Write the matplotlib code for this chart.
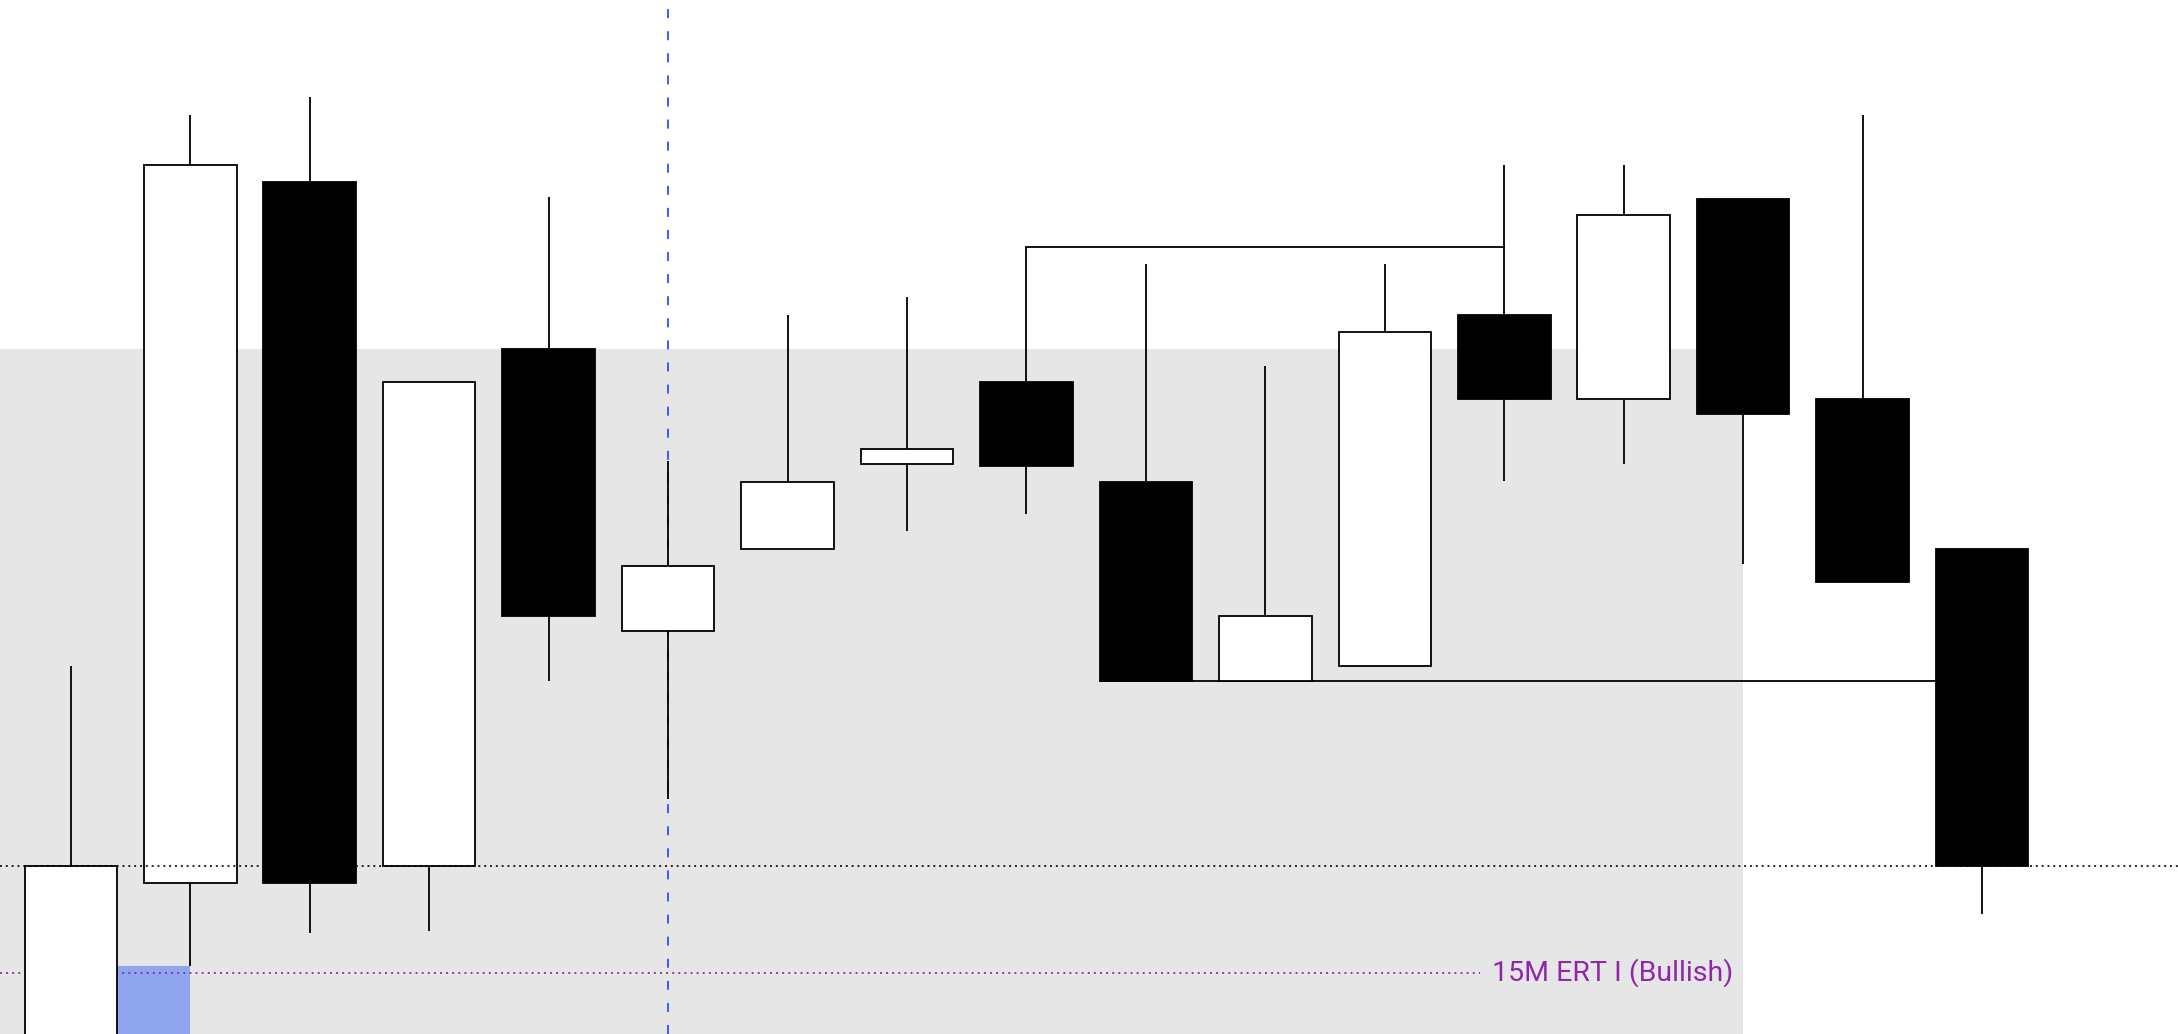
import matplotlib
matplotlib.use("Agg")
import matplotlib.pyplot as plt
from matplotlib.patches import Rectangle

plt.rcParams['lines.scale_dashes'] = False

# OHLC data (price units)
opens  = [4472.0, 4554.5, 4806.5, 4560.5, 4746.5, 4645.0, 4674.5, 4705.0, 4734.5,
          4698.5, 4627.0, 4632.5, 4758.5, 4728.5, 4800.5, 4728.5, 4674.5]
highs  = [4632.5, 4830.5, 4837.0, 4734.5, 4801.0, 4706.0, 4758.5, 4765.0, 4783.0,
          4777.0, 4740.5, 4777.0, 4812.5, 4812.5, 4800.5, 4830.5, 4674.5]
lows   = [4462.0, 4524.5, 4536.5, 4537.0, 4627.0, 4584.5, 4674.5, 4681.0, 4687.0,
          4627.0, 4627.0, 4632.5, 4699.0, 4705.0, 4669.0, 4662.5, 4543.0]
closes = [4560.5, 4812.5, 4554.5, 4734.5, 4650.5, 4668.5, 4698.5, 4710.5, 4704.5,
          4627.0, 4650.5, 4752.5, 4728.5, 4794.5, 4723.0, 4662.5, 4560.5]

# annotation levels
zone_top = 4746.5          # grey zone upper bound
zone_end_bar = 14          # grey zone ends at this bar
dotted_level = 4560.5      # black dotted horizontal
ert_level = 4522.0         # purple ERT line
ert_label = "15M ERT I (Bullish)"
fvg_top = 4524.5           # blue box top
fvg_bars = (0, 1)
vline_bar = 5
top_line = (8, 12, 4783.0)
bottom_line = (9, 16, 4627.0)

BW = 0.775
fig = plt.figure(figsize=(21.78, 10.34), dpi=100)
ax = fig.add_axes([0, 0, 1, 1])
ax.set_xlim(-0.593, 17.64)
ax.set_ylim(4500, 4872)
ax.axis('off')

ymin, ymax = ax.get_ylim()
xmin, xmax = ax.get_xlim()

# grey zone
ax.add_patch(Rectangle((xmin, ymin), zone_end_bar - xmin, zone_top - ymin,
                       facecolor='#e6e6e6', edgecolor='none', zorder=0))
# blue box
ax.add_patch(Rectangle((fvg_bars[0] + BW / 2, ymin), fvg_bars[1] - fvg_bars[0] - BW / 2,
                       fvg_top - ymin, facecolor='#8fa5ee', edgecolor='none', zorder=1))
# purple ERT line + label
ax.plot([xmin, 11.8], [ert_level, ert_level], color='#9027ab', lw=1.3,
        linestyle=(0, (1.4, 3.0)), zorder=2)
ax.annotate(ert_label, xy=(zone_end_bar, ert_level), xytext=(-7, 0),
            textcoords='offset points', ha='right', va='center',
            color='#9027ab', fontsize=20.5, family='Roboto', zorder=5)

# blue dashed vertical line (behind candles)
ax.axvline(vline_bar, color='#3d5afe', lw=1.4, linestyle=(0, (6.5, 9.4)), zorder=2.5)

# candles
for i, (o, h, l, c) in enumerate(zip(opens, highs, lows, closes)):
    ax.vlines(i, l, h, color='black', lw=1.3, zorder=3)
    bull = c >= o
    ax.add_patch(Rectangle((i - BW / 2, min(o, c)), BW, abs(c - o),
                           facecolor='white' if bull else 'black',
                           edgecolor='black', lw=1.3, zorder=4))

# connecting lines
ax.plot([top_line[0], top_line[1]], [top_line[2]] * 2, color='black', lw=1.3, zorder=3)
ax.plot([bottom_line[0] - BW / 2, bottom_line[1] - BW / 2], [bottom_line[2]] * 2,
        color='black', lw=1.3, zorder=3)

# black dotted line
ax.axhline(dotted_level, color='black', lw=1.2, linestyle=(0, (1.4, 2.8)), zorder=6)

fig.savefig('out.png', dpi=100)
